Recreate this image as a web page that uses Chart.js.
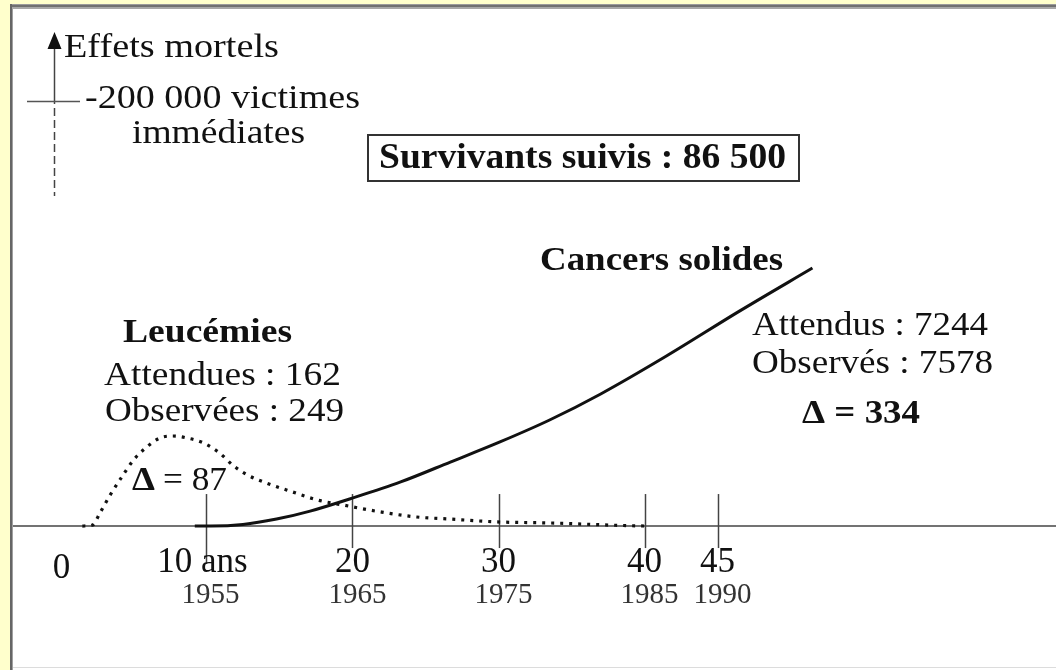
<!DOCTYPE html>
<html>
<head>
<meta charset="utf-8">
<script src="https://cdn.jsdelivr.net/npm/chart.js@4"></script>
<style>
html,body{margin:0;padding:0;background:#FFFFCC;overflow:hidden;}
canvas{display:block;}
</style>
</head>
<body>
<canvas id="c" width="1056" height="670"></canvas>
<script>
// ---- data (years after 1945, arbitrary effect units) ----
const tickYears = [10, 20, 30, 40, 45];
const tickLabels = ['10 ans', '20', '30', '40', '45'];
const calendarYears = ['1955', '1965', '1975', '1985', '1990'];

const leukT = [1.5, 2.2, 2.7, 3.4, 4.2, 5.0, 5.9, 6.8, 7.7, 8.7, 9.8, 10.9, 11.8, 12.8, 14.1, 15.9, 17.6, 19.4, 22.0, 24.4, 26.7, 29.9, 33.5, 38.0, 40.0];
const leukH = [0, 0.4, 5, 12, 19, 25.6, 30.6, 34.1, 34.9, 34.1, 32.2, 28.3, 23.6, 19.8, 16.7, 13.2, 10.1, 8.1, 5.4, 3.5, 2.7, 1.6, 1.2, 0.3, 0];

const cancerT = [9.2, 10.3, 12.5, 14.8, 17.1, 19.8, 23.3, 26.7, 30.1, 33.5, 37.0, 41.5, 46.5, 51.5];
const cancerH = [0, 0, 0.6, 2.7, 5.8, 10.5, 17.1, 24.8, 32.6, 41.1, 51.2, 65.9, 83.3, 100];

const immediateVictims = 200000;
const survivors = 86500;
const leukExpected = 162, leukObserved = 249;
const cancerExpected = 7244, cancerObserved = 7578;

const fmt = n => String(n).replace(/\B(?=(\d{3})+(?!\d))/g, ' ');
const SERIF = '"Liberation Serif", "Times New Roman", serif';

function txt(ctx, s, left, right, base, size, bold, color) {
  ctx.save();
  ctx.font = (bold ? 'bold ' : '') + size + 'px ' + SERIF;
  const w = ctx.measureText(s).width;
  const sx = right != null ? (right - left) / w : 1;
  ctx.translate(left, base);
  ctx.scale(sx, 1);
  ctx.textAlign = 'left';
  ctx.textBaseline = 'alphabetic';
  ctx.fillStyle = color || '#111';
  ctx.fillText(s, 0, 0);
  ctx.restore();
}
function ctxt(ctx, s, cx, base, size, bold, color) {
  ctx.save();
  ctx.font = (bold ? 'bold ' : '') + size + 'px ' + SERIF;
  ctx.textAlign = 'center';
  ctx.textBaseline = 'alphabetic';
  ctx.fillStyle = color || '#111';
  ctx.fillText(s, cx, base);
  ctx.restore();
}

const frame = {
  id: 'frame',
  beforeDraw(chart) {
    const ctx = chart.ctx;
    const W = chart.width, H = chart.height;
    ctx.save();
    ctx.fillStyle = '#FFFFCC';
    ctx.fillRect(0, 0, W, H);
    ctx.fillStyle = '#FFFFFF';
    ctx.fillRect(10, 4, W - 10, H - 4);
    // top border
    ctx.fillStyle = '#9a9a9a'; ctx.fillRect(10, 4, W - 10, 1);
    ctx.fillStyle = '#707070'; ctx.fillRect(10, 5, W - 10, 2);
    ctx.fillStyle = '#a8a8a8'; ctx.fillRect(10, 7, W - 10, 2);
    // left border
    ctx.fillStyle = '#666666'; ctx.fillRect(10, 4, 2, H - 4);
    ctx.fillStyle = '#a0a0a0'; ctx.fillRect(12, 9, 1, H - 9);
    // bottom faint line
    ctx.fillStyle = '#dcdcdc'; ctx.fillRect(13, 667, W - 13, 1);
    ctx.restore();
  },
  beforeDatasetsDraw(chart) {
    const ctx = chart.ctx;
    const xs = chart.scales.x, ys = chart.scales.y;
    const y0 = ys.getPixelForValue(0);
    ctx.save();
    // horizontal axis
    ctx.strokeStyle = '#444';
    ctx.lineWidth = 1.6;
    ctx.beginPath(); ctx.moveTo(13, y0); ctx.lineTo(chart.width, y0); ctx.stroke();
    // tick marks
    ctx.strokeStyle = '#444';
    ctx.lineWidth = 1.5;
    tickYears.forEach((t, i) => {
      const px = Math.round(xs.getPixelForValue(t)) + 0.5;
      ctx.beginPath();
      ctx.moveTo(px, y0 - 32);
      ctx.lineTo(px, y0 + (i === 0 ? 38 : 22));
      ctx.stroke();
    });
    // vertical axis with arrow
    const ax = 54.5;
    ctx.strokeStyle = '#444';
    ctx.lineWidth = 1.5;
    ctx.beginPath(); ctx.moveTo(ax, 46); ctx.lineTo(ax, 104); ctx.stroke();
    ctx.setLineDash([8, 4]);
    ctx.beginPath(); ctx.moveTo(ax, 108); ctx.lineTo(ax, 196); ctx.stroke();
    ctx.setLineDash([]);
    ctx.fillStyle = '#111';
    ctx.beginPath(); ctx.moveTo(ax, 32); ctx.lineTo(ax - 7, 49); ctx.lineTo(ax + 7, 49); ctx.closePath(); ctx.fill();
    ctx.strokeStyle = '#555';
    ctx.beginPath(); ctx.moveTo(27, 101.5); ctx.lineTo(80, 101.5); ctx.stroke();
    ctx.restore();
  },
  afterDatasetsDraw(chart) {
    const ctx = chart.ctx;
    const xs = chart.scales.x;
    // axis labels
    ctxt(ctx, '0', xs.getPixelForValue(0) + 1, 578, 35, false);
    tickYears.forEach((t, i) => {
      const px = xs.getPixelForValue(t);
      ctxt(ctx, tickLabels[i], px + (i === 0 ? -4 : 0), 572, 35, false);
      ctxt(ctx, calendarYears[i], px + (i === 0 ? 4 : 5), 603, 29, false, '#333');
    });
    // y axis annotations
    txt(ctx, 'Effets mortels', 64, 279, 57, 33, false);
    txt(ctx, '-' + fmt(immediateVictims) + ' victimes', 85, 360, 108, 33, false);
    txt(ctx, 'immédiates', 132, 305, 143, 33, false);
    // survivors box
    ctx.save();
    ctx.strokeStyle = '#333';
    ctx.lineWidth = 2;
    ctx.strokeRect(368, 135, 431, 46);
    ctx.restore();
    txt(ctx, 'Survivants suivis : ' + fmt(survivors), 379, 786, 168, 35, true);
    // leukemia
    txt(ctx, 'Leucémies', 123, 292, 342, 33, true);
    txt(ctx, 'Attendues : ' + leukExpected, 104, 341, 385, 34, false);
    txt(ctx, 'Observées : ' + leukObserved, 105, 344, 421, 34, false);
    txt(ctx, 'Δ', 132, 155, 490, 33, true);
    txt(ctx, '= ' + (leukObserved - leukExpected), 163, 227, 490, 34, false);
    // solid cancers
    txt(ctx, 'Cancers solides', 540, 783, 270, 33, true);
    txt(ctx, 'Attendus : ' + cancerExpected, 752, 988, 335, 34, false);
    txt(ctx, 'Observés : ' + cancerObserved, 752, 993, 373, 34, false);
    txt(ctx, 'Δ = ' + (cancerObserved - cancerExpected), 802, 920, 423, 33, true);
  }
};

new Chart(document.getElementById('c'), {
  type: 'line',
  data: {
    datasets: [
      {
        label: 'Leucémies',
        data: leukT.map((t, i) => ({ x: t, y: leukH[i] })),
        borderColor: '#111',
        borderWidth: 3.2,
        borderDash: [3, 6],
        borderCapStyle: 'butt',
        pointRadius: 0,
        cubicInterpolationMode: 'monotone',
        fill: false
      },
      {
        label: 'Cancers solides',
        data: cancerT.map((t, i) => ({ x: t, y: cancerH[i] })),
        borderColor: '#111',
        borderWidth: 3,
        pointRadius: 0,
        cubicInterpolationMode: 'monotone',
        fill: false
      }
    ]
  },
  options: {
    responsive: false,
    animation: false,
    devicePixelRatio: 1,
    layout: { padding: 0 },
    plugins: { legend: { display: false }, tooltip: { enabled: false } },
    scales: {
      x: { type: 'linear', min: -4.14, max: 68.18, display: false },
      y: { type: 'linear', min: -55.8, max: 203.9, display: false }
    }
  },
  plugins: [frame]
});
</script>
</body>
</html>
